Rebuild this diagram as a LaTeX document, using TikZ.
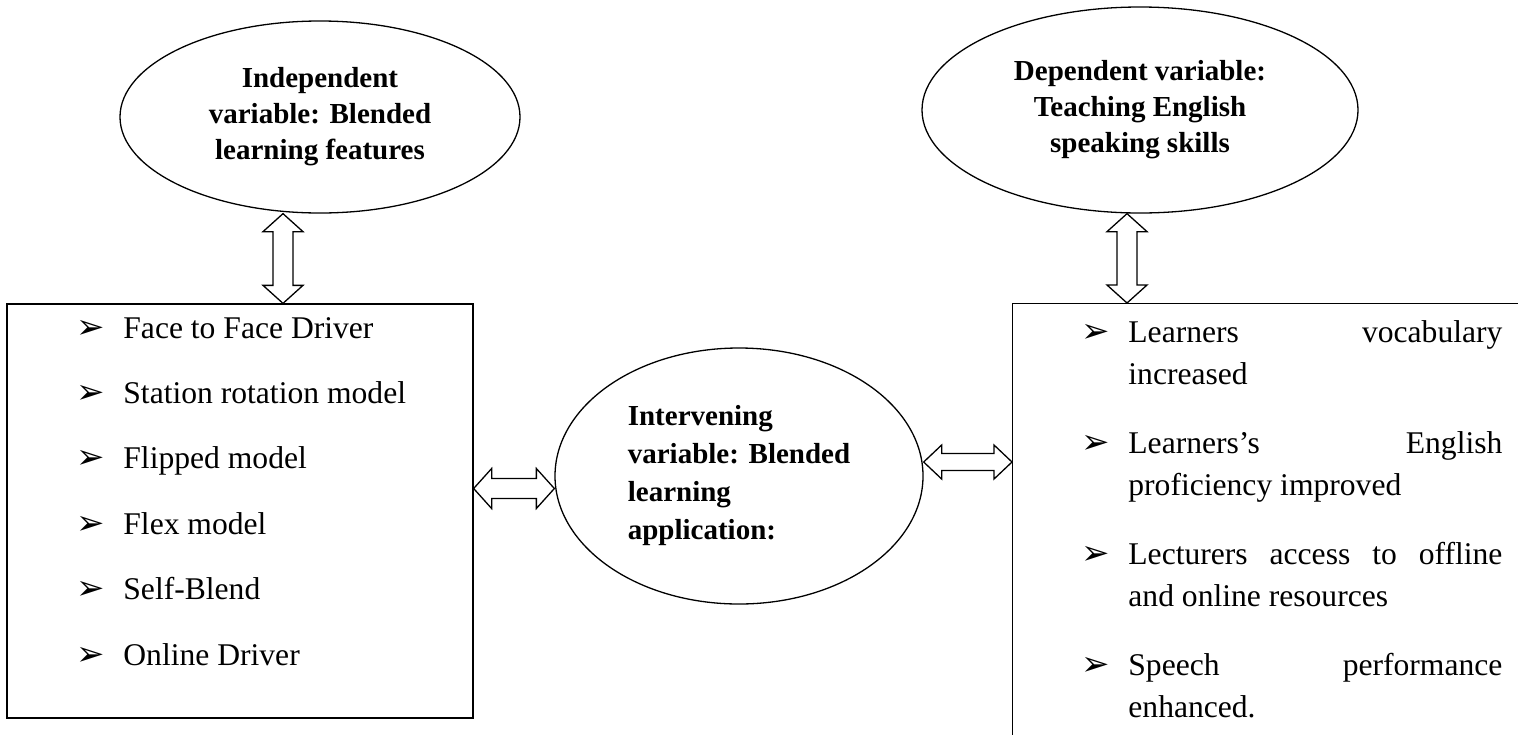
\documentclass[tikz,border=0pt]{standalone}
\usepackage{fontspec}
\setmainfont{Liberation Serif}
\newfontfamily\dingfont{DejaVu Sans}
\usetikzlibrary{calc,shapes.geometric}
\hyphenpenalty=10000
\tolerance=9999

\tikzset{
  var/.style={ellipse, draw, line width=0.65pt, inner sep=0pt, align=center,
    font=\bfseries\fontsize{14.5}{18}\selectfont},
  listbox/.style={rectangle, draw, line width=0.65pt, inner sep=0pt},
  item/.style={inner sep=0pt, anchor=base west, font=\fontsize{15.8}{21}\selectfont},
  bul/.style={inner sep=0pt, anchor=base west, font=\dingfont\fontsize{17}{17}\selectfont},
  hollow/.style={draw, fill=white, line width=0.65pt, line join=miter},
}

% vertical hollow double arrow: #1 upper end, #2 lower end
\newcommand{\linkV}[2]{%
  \draw[hollow] let \p1=(#1), \p2=(#2) in
    (\x1,\y1) -- (\x1+10pt,\y1-9pt) -- (\x1+5pt,\y1-9pt) -- (\x1+5pt,\y2+9pt)
    -- (\x1+10pt,\y2+9pt) -- (\x1,\y2) -- (\x1-10pt,\y2+9pt) -- (\x1-5pt,\y2+9pt)
    -- (\x1-5pt,\y1-9pt) -- (\x1-10pt,\y1-9pt) -- cycle;}

% horizontal hollow double arrow: #1 size, #2 left end, #3 right end
\newcommand{\linkH}[3][1]{%
  \draw[hollow] let \p1=(#2), \p2=(#3) in
    (\x1,\y1) -- (\x1+9pt,\y1+#1*10pt) -- (\x1+9pt,\y1+#1*5pt) -- (\x2-9pt,\y1+#1*5pt)
    -- (\x2-9pt,\y1+#1*10pt) -- (\x2,\y1) -- (\x2-9pt,\y1-#1*10pt) -- (\x2-9pt,\y1-#1*5pt)
    -- (\x1+9pt,\y1-#1*5pt) -- (\x1+9pt,\y1-#1*10pt) -- cycle;}

\begin{document}
\begin{tikzpicture}[x=0.5pt,y=-0.5pt]
\useasboundingbox (0,0) rectangle (1518,734);
\clip (0,0) rectangle (1518,734);

% the three variables
\node[var, minimum width=200pt, minimum height=96pt] (indep) at (320,117)
  {Independent\\ variable: Blended\\ learning features};
\node[var, minimum width=218pt, minimum height=103pt] (dep) at (1140,110)
  {Dependent variable:\\ Teaching English\\ speaking skills};
\node[var, align=left, minimum width=184pt, minimum height=128pt,
  font=\bfseries\fontsize{14.5}{19}\selectfont] (interv) at (739,476)
  {Intervening\\ variable: Blended\\ learning\\ application:};

% boxes
\node[listbox, minimum width=233pt, minimum height=207pt] (featbox) at (240,511) {};
\node[listbox, minimum width=300pt, minimum height=250pt, anchor=north west] (resbox) at (1012,303) {};

% blended learning models
\foreach \t [count=\i] in {Face to Face Driver, Station rotation model, Flipped model,
    Flex model, Self-Blend, Online Driver} {
  \node[bul] (featb\i) at (76,{338+65.4*(\i-1)}) {➢};
  \node[item] (feat\i) at (123,{338+65.4*(\i-1)}) {\t};
}

% outcomes
\foreach \t [count=\i] in {Learners vocabulary increased,
    Learners’s English proficiency improved,
    Lecturers access to offline and online resources,
    Speech performance enhanced.} {
  \node[bul] (resb\i) at (1081,{342+111*(\i-1)}) {➢};
  \node[item, text width=187pt, align=justify] (res\i) at (1128,{342+111*(\i-1)}) {\t};
}

% links
\linkV{[xshift=-18.5pt]indep.south}{featbox.north}
\linkV{[xshift=-6.5pt]dep.south}{resbox.north}
\linkH{[yshift=11.25pt]featbox.east}{interv.west}
\linkH[0.85]{[yshift=7pt]interv.east}{resbox.west}
\end{tikzpicture}
\end{document}
